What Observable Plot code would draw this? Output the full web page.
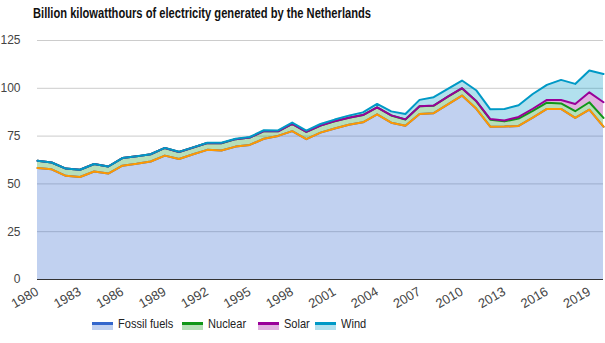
<!DOCTYPE html>
<html>
<head>
<meta charset="utf-8">
<script src="https://cdn.jsdelivr.net/npm/d3@7"></script>
<script src="https://cdn.jsdelivr.net/npm/@observablehq/plot@0.6"></script>
<style>
  html, body { margin: 0; padding: 0; background: #fff; }
  #wrap { width: 605px; height: 343px; position: relative; overflow: hidden; }
  #title { position: absolute; left: 33px; top: 5px; font-family: "Liberation Sans", Arial, sans-serif; font-weight: bold; font-size: 14px; color: #111; white-space: nowrap; transform-origin: 0 0; }
  #chart { position: absolute; left: 0; top: 28px; }
  #legend { position: absolute; left: 0; top: 316px; width: 605px; height: 20px; font-family: "Liberation Sans", Arial, sans-serif; font-size: 13px; color: #222; }
  .item { position: absolute; top: 0; display: flex; align-items: center; white-space: nowrap; }
  .sw { width: 21px; height: 5px; margin-right: 5px; margin-top: 5px; }
  .lt { display: inline-block; transform: scaleX(0.85); transform-origin: 0 50%; }
</style>
</head>
<body>
<div id="wrap">
  <div id="title"><span id="titleText">Billion kilowatthours of electricity generated by the Netherlands</span></div>
  <div id="chart"></div>
  <div id="legend"></div>
</div>
<script>
const years = [1980,1981,1982,1983,1984,1985,1986,1987,1988,1989,1990,1991,1992,1993,1994,1995,1996,1997,1998,1999,2000,2001,2002,2003,2004,2005,2006,2007,2008,2009,2010,2011,2012,2013,2014,2015,2016,2017,2018,2019,2020];
const fossil = [58.3,57.6,54.2,53.6,56.5,55.4,59.5,60.5,61.7,64.8,63.0,65.5,67.8,67.5,69.5,70.4,73.6,75.1,77.6,73.4,76.8,79.0,80.9,82.2,86.4,82.0,80.4,86.6,87.0,91.6,96.2,89.4,79.9,80.0,80.3,84.7,89.2,89.2,84.5,88.8,79.9];
const nuclear = [3.8,3.6,3.8,3.8,3.9,3.7,4.0,3.9,3.8,4.0,3.7,3.5,3.6,3.8,3.9,3.8,4.0,2.4,3.8,3.8,3.7,3.8,3.7,3.8,3.6,3.8,3.3,4.0,3.9,4.0,3.8,3.9,3.7,2.7,3.9,3.5,3.3,2.9,3.5,3.9,4.6];
const solar = [0,0,0,0,0,0,0,0,0,0,0.01,0.01,0.01,0.01,0.01,0.01,0.01,0.01,0.01,0.01,0.01,0.01,0.02,0.02,0.03,0.03,0.04,0.04,0.04,0.05,0.06,0.1,0.3,0.5,0.8,1.1,1.4,1.8,3.8,5.2,8.2];
const wind = [0,0,0,0,0,0,0.01,0.02,0.03,0.04,0.06,0.09,0.14,0.17,0.21,0.32,0.44,0.48,0.64,0.64,0.83,0.83,1.1,1.4,1.8,2.1,2.8,3.3,4.4,4.1,4.0,5.6,5.1,6.0,6.1,7.7,7.9,10.5,10.5,11.4,14.8];
const seriesNames = ["Fossil fuels","Nuclear","Solar","Wind"];
const seriesColors = ["#3366cc","#109618","#990099","#0099c6"];
const xTicks = [1980,1983,1986,1989,1992,1995,1998,2001,2004,2007,2010,2013,2016,2019];
const yTicks = [0,25,50,75,100,125];

const seriesValues = [fossil, nuclear, solar, wind];
const data = [];
seriesNames.forEach((s, i) => years.forEach((yr, j) => data.push({series: s, year: yr, value: seriesValues[i][j]})));
const fossilRows = data.filter(d => d.series === "Fossil fuels");

const chart = Plot.plot({
  width: 605,
  height: 285,
  marginTop: 12,
  marginLeft: 37,
  marginRight: 2,
  marginBottom: 34,
  style: {fontFamily: "'Liberation Sans', Arial, sans-serif", fontSize: "12px", color: "#444", background: "transparent", overflow: "visible"},
  x: {domain: [1980, 2020], label: null},
  y: {domain: [0, 125], label: null},
  color: {domain: seriesNames, range: seriesColors},
  marks: [
    Plot.ruleY(yTicks.filter(d => d > 0), {stroke: "#cccccc", strokeWidth: 1}),
    Plot.areaY(data, {x: "year", y: "value", z: "series", fill: "series", fillOpacity: 0.3, order: seriesNames}),
    Plot.lineY(data, Plot.stackY2({x: "year", y: "value", z: "series", stroke: "series", strokeWidth: 2, order: seriesNames})),
    Plot.lineY(fossilRows, {x: "year", y: "value", stroke: "#ff9900", strokeWidth: 2}),
    Plot.ruleY([0], {stroke: "#333", strokeWidth: 1}),
    Plot.axisY({ticks: yTicks, tickSize: 0, tickPadding: 17, fill: "#444"}),
    Plot.axisX({ticks: xTicks, tickFormat: d => String(d), tickRotate: -30, tickSize: 0, tickPadding: 11, fill: "#444", fontSize: 13})
  ]
});
document.getElementById("chart").appendChild(chart);

// fit title width to the reference's span
const tt = document.getElementById("titleText");
const tw = tt.getBoundingClientRect().width;
document.getElementById("title").style.transform = "scaleX(" + (338 / tw) + ")";

const legendX = [92, 182, 258, 315];
const legend = document.getElementById("legend");
seriesNames.forEach((s, i) => {
  const item = document.createElement("div");
  item.className = "item";
  item.style.left = legendX[i] + "px";
  const sw = document.createElement("div");
  sw.className = "sw";
  sw.style.borderTop = "3px solid " + seriesColors[i];
  const c = d3.color(seriesColors[i]); c.opacity = 0.3;
  sw.style.background = c.formatRgb();
  const t = document.createElement("span");
  t.className = "lt";
  t.textContent = s;
  item.appendChild(sw); item.appendChild(t);
  legend.appendChild(item);
});
</script>
</body>
</html>
